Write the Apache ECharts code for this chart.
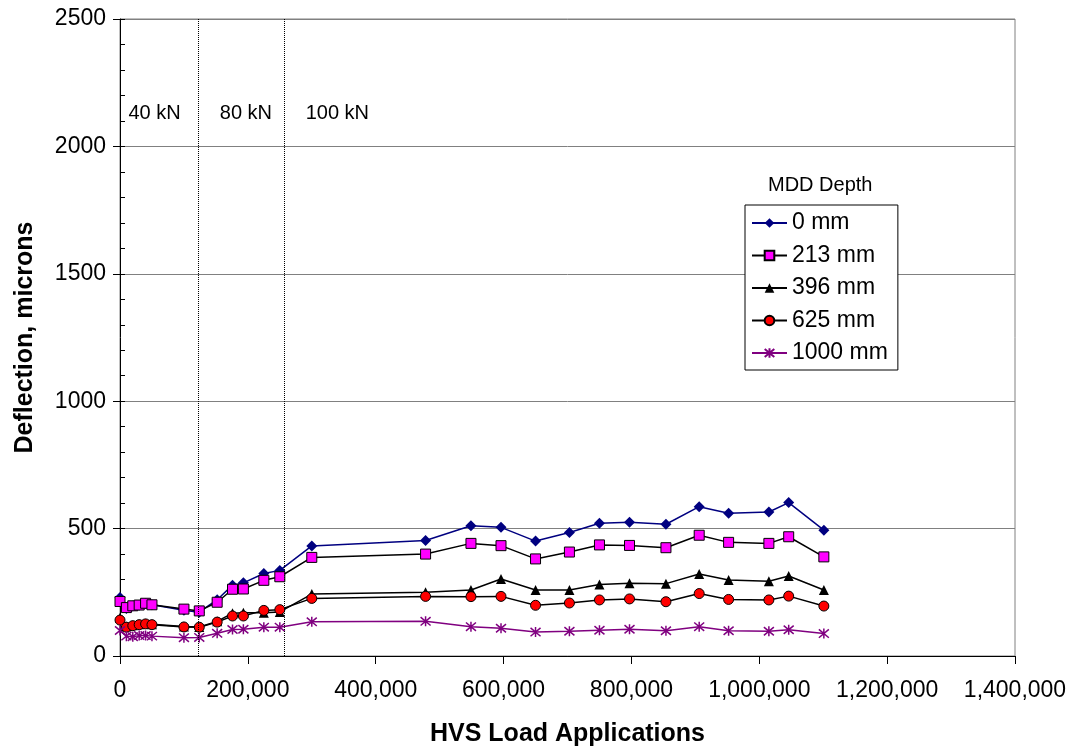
<!DOCTYPE html>
<html>
<head>
<meta charset="utf-8">
<script src="https://cdn.jsdelivr.net/npm/echarts@6/dist/echarts.min.js"></script>
<style>
html,body{margin:0;padding:0;background:#fff;}
#chart{width:1071px;height:752px;}
</style>
</head>
<body>
<div id="chart"></div>
<script>
// ---- data ----
var loadApps = [0, 10000, 20000, 30000, 40000, 50000, 100000, 124000, 152000, 176000, 193000, 225000, 250000, 300000, 478000, 549000, 596000, 650000, 703000, 750000, 797000, 854000, 906000, 952000, 1015000, 1046000, 1101000];
var seriesNames = ['0 mm', '213 mm', '396 mm', '625 mm', '1000 mm'];
var depth0 = [230, 186, 196, 199, 206, 201, 180, 172, 221, 278, 287, 324, 336, 432, 453, 511, 505, 451, 485, 521, 525, 517, 586, 560, 565, 602, 494];
var depth213 = [214, 190, 197, 200, 207, 201, 184, 177, 211, 262, 263, 297, 311, 387, 400, 442, 433, 381, 408, 436, 434, 425, 474, 446, 442, 468, 389];
var depth396 = [150, 116, 121, 125, 128, 125, 116, 114, 136, 168, 170, 170, 173, 243, 250, 259, 302, 259, 259, 281, 286, 284, 322, 298, 293, 314, 259];
var depth625 = [141, 113, 119, 123, 126, 123, 114, 113, 133, 157, 157, 179, 182, 226, 234, 233, 234, 199, 208, 220, 224, 213, 245, 222, 220, 235, 196];
var depth1000 = [100, 78, 76, 80, 80, 78, 72, 73, 89, 104, 105, 113, 113, 134, 136, 115, 109, 94, 97, 101, 105, 99, 115, 99, 97, 103, 88];
var loadChangeX = [122000, 256500];
var loadLabels = ['40 kN', '80 kN', '100 kN'];
var loadLabelX = [54000, 197000, 340000];
var loadLabelY = 2130;
var xTicks = [0, 200000, 400000, 600000, 800000, 1000000, 1200000, 1400000];
var yTicks = [0, 500, 1000, 1500, 2000, 2500];

var FONT = 'Liberation Sans, Arial, sans-serif';
function pairs(vals) { return loadApps.map(function (x, i) { return [x, vals[i]]; }); }
var starPath = 'path://M0,0L10,10M10,0L0,10M5,-1L5,11';

var chart = echarts.init(document.getElementById('chart'), null, {renderer: 'canvas'});

var base = {
  type: 'line',
  symbolSize: 10,
  animation: false,
  emphasis: {disabled: true},
  z: 3
};

var series = [
  Object.assign({}, base, {
    name: seriesNames[0], data: pairs(depth0), symbol: 'diamond', symbolSize: 11,
    lineStyle: {color: '#000080', width: 1.5},
    itemStyle: {color: '#000080'},
    markLine: {
      silent: true, symbol: 'none', animation: false,
      label: {show: false},
      lineStyle: {type: 'dotted', color: '#000', width: 1},
      data: loadChangeX.map(function (v) { return {xAxis: v}; })
    },
    markPoint: {
      silent: true, animation: false,
      symbol: 'rect', symbolSize: 0,
      label: {show: true, position: 'inside', color: '#000', fontSize: 20, fontFamily: FONT,
              formatter: function (p) { return p.name; }},
      data: loadLabels.map(function (t, i) { return {name: t, coord: [loadLabelX[i], loadLabelY]}; })
    }
  }),
  Object.assign({}, base, {
    name: seriesNames[1], data: pairs(depth213), symbol: 'rect',
    lineStyle: {color: '#000', width: 1.5},
    itemStyle: {color: '#FF00FF', borderColor: '#000', borderWidth: 1}
  }),
  Object.assign({}, base, {
    name: seriesNames[2], data: pairs(depth396), symbol: 'triangle',
    lineStyle: {color: '#000', width: 1.5},
    itemStyle: {color: '#000'}
  }),
  Object.assign({}, base, {
    name: seriesNames[3], data: pairs(depth625), symbol: 'circle',
    lineStyle: {color: '#000', width: 1.5},
    itemStyle: {color: '#FF0000', borderColor: '#000', borderWidth: 1}
  }),
  Object.assign({}, base, {
    name: seriesNames[4], data: pairs(depth1000), symbol: starPath, symbolSize: 10,
    lineStyle: {color: '#800080', width: 1.5},
    itemStyle: {color: '#800080', borderColor: '#800080', borderWidth: 1.5}
  })
];

var option = {
  backgroundColor: '#fff',
  animation: false,
  textStyle: {fontFamily: FONT},
  grid: {left: 120, right: 56, top: 19, bottom: 96, show: true, borderColor: '#808080', borderWidth: 1, backgroundColor: 'transparent'},
  graphic: [{
    type: 'text', left: 768, top: 175,
    style: {text: 'MDD Depth', font: '20px ' + FONT, fill: '#000'}
  }],
  legend: {
    data: seriesNames,
    orient: 'vertical',
    left: 745, top: 205,
    padding: [6, 10, 5, 6],
    itemGap: 8.5,
    itemWidth: 35, itemHeight: 12,
    itemTextGap: 6,
    backgroundColor: '#fff',
    borderColor: '#000', borderWidth: 1,
    textStyle: {fontSize: 23, color: '#000', fontFamily: FONT, lineHeight: 24},
    selectedMode: false
  },
  xAxis: [{
    type: 'value', min: xTicks[0], max: xTicks[xTicks.length - 1], interval: xTicks[1] - xTicks[0],
    name: 'HVS Load Applications', nameLocation: 'middle', nameGap: 66,
    nameTextStyle: {fontSize: 25, fontWeight: 'bold', color: '#000', fontFamily: FONT},
    axisLine: {show: true, lineStyle: {color: '#000', width: 1}},
    axisTick: {show: true, length: 8, lineStyle: {color: '#000'}},
    axisLabel: {fontSize: 23, color: '#000', margin: 23, fontFamily: FONT,
                formatter: function (v) { return v.toLocaleString('en-US'); }},
    splitLine: {show: false}
  }, {
    type: 'value', position: 'top', min: xTicks[0], max: xTicks[xTicks.length - 1],
    axisLine: {show: true, lineStyle: {color: '#000', width: 1}},
    axisTick: {show: false}, axisLabel: {show: false}, splitLine: {show: false}
  }],
  yAxis: [{
    type: 'value', min: yTicks[0], max: yTicks[yTicks.length - 1], interval: yTicks[1] - yTicks[0],
    name: 'Deflection, microns', nameLocation: 'middle', nameGap: 82,
    nameTextStyle: {fontSize: 25, fontWeight: 'bold', color: '#000', fontFamily: FONT},
    axisLine: {show: true, lineStyle: {color: '#000', width: 1}},
    axisTick: {show: true, length: 7, lineStyle: {color: '#000'}},
    axisLabel: {fontSize: 23, color: '#000', margin: 14, fontFamily: FONT,
                formatter: function (v) { return String(v); }},
    splitLine: {show: true, lineStyle: {color: '#808080', width: 1}}
  }, {
    type: 'value', position: 'left', offset: 0, min: yTicks[0], max: yTicks[yTicks.length - 1], interval: yTicks[1] - yTicks[0],
    axisLine: {show: false},
    axisTick: {show: true, inside: true, length: 5, lineStyle: {color: '#000'}},
    minorTick: {show: true, splitNumber: 5, length: 5, lineStyle: {color: '#000'}},
    axisLabel: {show: false}, splitLine: {show: false}
  }],
  series: series
};
chart.setOption(option);
</script>
</body>
</html>
